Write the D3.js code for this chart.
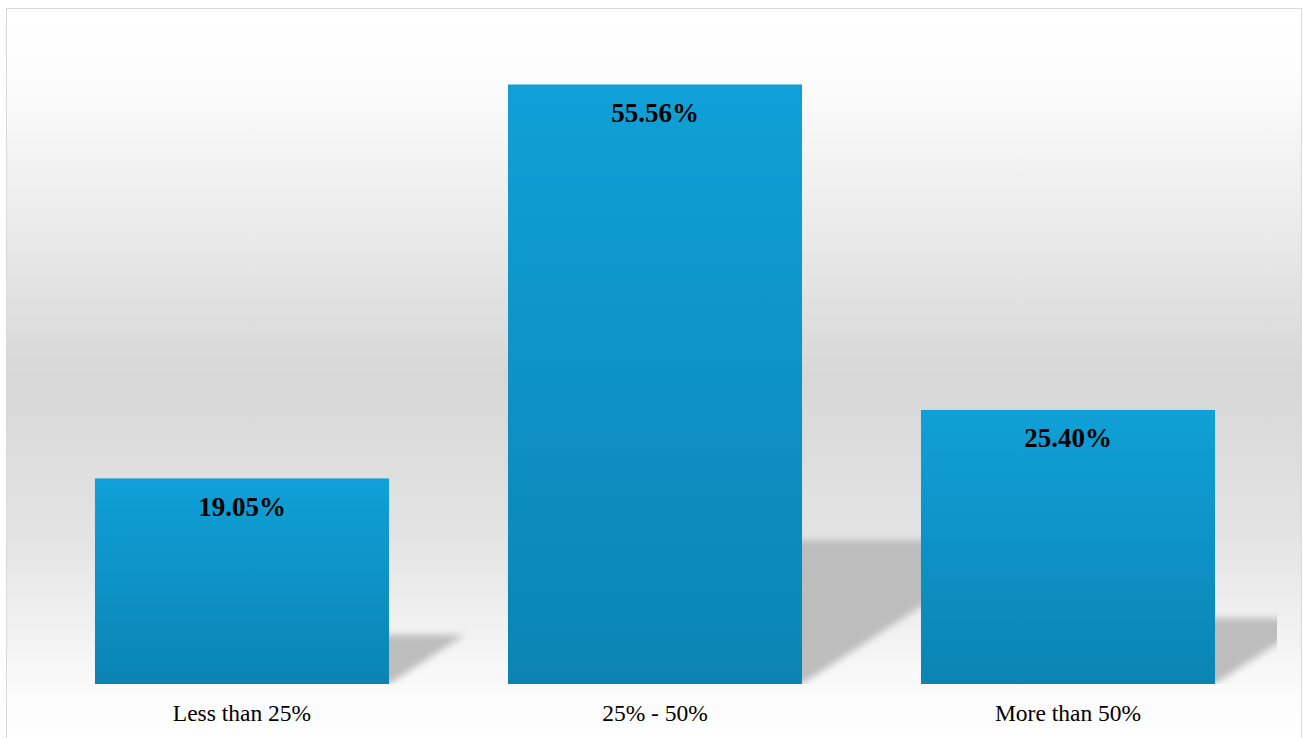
<!DOCTYPE html>
<html><head><meta charset="utf-8">
<script src="https://cdn.jsdelivr.net/npm/d3@7"></script>
<style>html,body{margin:0;padding:0;background:#fff;}svg{display:block;}</style>
</head><body>
<script>
const categories = ["Less than 25%", "25% - 50%", "More than 50%"];
const values = [19.05, 55.56, 25.40];
const valueLabels = ["19.05%", "55.56%", "25.40%"];

const W = 1303, H = 738;
const svg = d3.select("body").append("svg").attr("width", W).attr("height", H);
const defs = svg.append("defs");

const bg = defs.append("linearGradient").attr("id","bg").attr("x1",0).attr("y1",0).attr("x2",0).attr("y2",1);
[[0,"#ffffff"],[0.08,"#fdfdfd"],[0.25,"#efefef"],[0.5,"#d7d7d7"],[0.72,"#e4e4e4"],[0.86,"#f4f4f4"],[0.93,"#fcfcfc"],[1,"#fefefe"]]
  .forEach(([o,c])=>bg.append("stop").attr("offset",o).attr("stop-color",c));

const barG = defs.append("linearGradient").attr("id","barG").attr("x1",0).attr("y1",0).attr("x2",0).attr("y2",1);
barG.append("stop").attr("offset",0).attr("stop-color","#10a0d7");
barG.append("stop").attr("offset",1).attr("stop-color","#0b84b3");

const blur = defs.append("filter").attr("id","blur").attr("x","-20%").attr("y","-20%").attr("width","140%").attr("height","140%");
blur.append("feGaussianBlur").attr("stdDeviation",3.5);

defs.append("clipPath").attr("id","plotClip").append("rect")
  .attr("x",30).attr("y",20).attr("width",1247).attr("height",664);

// chart background with border
svg.append("rect").attr("x",6.5).attr("y",8.5).attr("width",1295).attr("height",740)
  .attr("fill","url(#bg)").attr("stroke","#d9d9d9").attr("stroke-width",1);

const x = d3.scaleBand().domain(categories).range([35.5,1274.5]).paddingInner(0.288).paddingOuter(0.144);
const y = d3.scaleLinear().domain([0,60]).range([684,36.6]);

// shadows
const shG = svg.append("g").attr("clip-path","url(#plotClip)");
categories.forEach((c,i)=>{
  const x0 = x(c), x1 = x(c)+x.bandwidth(), base = y(0);
  const h = base - y(values[i]);
  const sh = h*0.24;
  const d = sh/0.65;
  shG.append("path")
    .attr("d", `M${x0},${base}L${x1},${base}L${x1+d},${base-sh}L${x0+d},${base-sh}Z`)
    .attr("fill","#bdbdbd").attr("filter","url(#blur)");
});

// bars
svg.append("g").selectAll("rect").data(categories).join("rect")
  .attr("x", d=>x(d)).attr("width", x.bandwidth())
  .attr("y", (d,i)=>y(values[i])).attr("height",(d,i)=>y(0)-y(values[i]))
  .attr("fill","url(#barG)");

// value labels
svg.append("g").selectAll("text").data(categories).join("text")
  .attr("x", d=>x(d)+x.bandwidth()/2).attr("y",(d,i)=>y(values[i])+37.5)
  .attr("text-anchor","middle").attr("font-family","'Liberation Serif', 'Times New Roman', serif")
  .attr("font-weight","bold").attr("font-size",27).attr("fill","#000")
  .text((d,i)=>valueLabels[i]);

// x axis
const xAxis = d3.axisBottom(x).tickSize(0).tickPadding(0);
const ax = svg.append("g").attr("transform",`translate(0,${y(0)})`).call(xAxis);
ax.select(".domain").remove();
ax.selectAll("text").attr("dy",null).attr("y",37)
  .attr("font-family","'Liberation Serif', 'Times New Roman', serif").attr("font-size",23.5).attr("fill","#000");
</script>
</body></html>
